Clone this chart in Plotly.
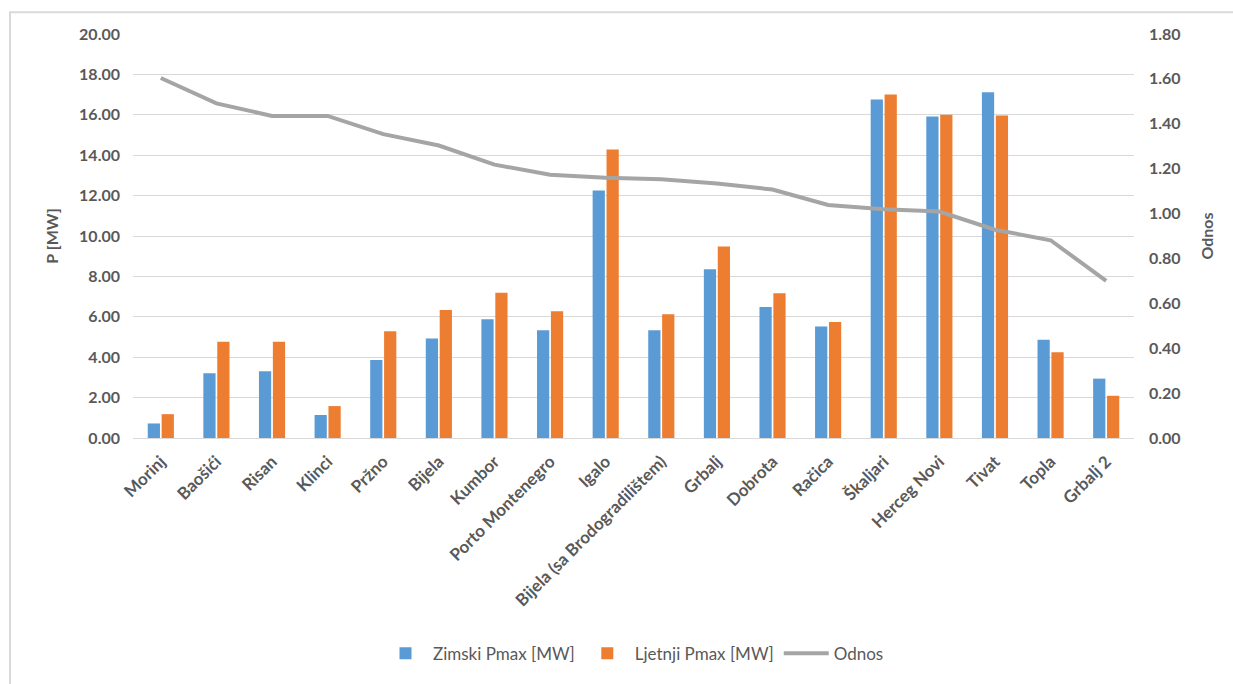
import plotly.graph_objects as go

categories = ["Morinj", "Baošići", "Risan", "Klinci", "Pržno", "Bijela", "Kumbor",
              "Porto Montenegro", "Igalo", "Bijela (sa Brodogradilištem)", "Grbalj",
              "Dobrota", "Račica", "Škaljari", "Herceg Novi", "Tivat", "Topla", "Grbalj 2"]
zimski = [0.72, 3.20, 3.30, 1.14, 3.86, 4.92, 5.88, 5.33, 12.25, 5.33, 8.35, 6.49,
          5.52, 16.76, 15.92, 17.12, 4.87, 2.94]
ljetnji = [1.18, 4.77, 4.77, 1.58, 5.28, 6.34, 7.19, 6.27, 14.28, 6.13, 9.48, 7.16,
           5.74, 17.01, 16.00, 15.96, 4.25, 2.09]
odnos = [1.604, 1.491, 1.435, 1.435, 1.354, 1.303, 1.218, 1.173, 1.160, 1.153, 1.134,
         1.107, 1.038, 1.019, 1.009, 0.928, 0.881, 0.700]
left_ticks = [0, 2, 4, 6, 8, 10, 12, 14, 16, 18, 20]
right_ticks = [0, 0.2, 0.4, 0.6, 0.8, 1.0, 1.2, 1.4, 1.6, 1.8]

FONT = "Lato"
GRAY = "#595959"

fig = go.Figure()
fig.add_trace(go.Bar(x=categories, y=zimski, name="Zimski Pmax [MW]",
                     marker=dict(color="#5B9BD5", line=dict(width=0))))
fig.add_trace(go.Bar(x=categories, y=ljetnji, name="Ljetnji Pmax [MW]",
                     marker=dict(color="#ED7D31", line=dict(width=0))))
fig.add_trace(go.Scatter(x=categories, y=odnos, name="Odnos", yaxis="y2",
                         mode="lines", line=dict(color="#A5A5A5", width=4)))

fig.update_layout(
    width=1233, height=684,
    paper_bgcolor="white", plot_bgcolor="white",
    margin=dict(l=133, r=99, t=34, b=242),
    barmode="group", bargap=0.5, bargroupgap=0.12,
    font=dict(family=FONT, color=GRAY),
    xaxis=dict(tickangle=-45, showgrid=False, showline=True, linecolor="#D9D9D9",
               linewidth=1, ticks="", ticklabelstandoff=6,
               tickfont=dict(family=FONT, size=17, color=GRAY, weight="bold")),
    yaxis=dict(range=[0, 20], tickvals=left_ticks,
               ticktext=[f"{v:.2f}" for v in left_ticks],
               showgrid=True, gridcolor="#D9D9D9", gridwidth=1, zeroline=False,
               ticks="", ticklabelstandoff=12,
               tickfont=dict(family=FONT, size=16, color=GRAY, weight="bold"),
               title=dict(text="P [MW]", font=dict(family=FONT, size=16, color=GRAY, weight="bold"),
                          standoff=16)),
    yaxis2=dict(range=[0, 1.8], tickvals=right_ticks,
                ticktext=[f"{v:.2f}" for v in right_ticks],
                overlaying="y", side="right", showgrid=False, zeroline=False,
                ticks="", ticklabelstandoff=14,
                tickfont=dict(family=FONT, size=16, color=GRAY, weight="bold"),
                title=dict(text="Odnos", font=dict(family=FONT, size=16, color=GRAY, weight="bold"),
                           standoff=22)),
    legend=dict(orientation="h", x=0.5, xanchor="center", y=-0.534, yanchor="middle",
                font=dict(family=FONT, size=17, color=GRAY), traceorder="normal",
                itemwidth=45),
    shapes=[dict(type="rect", xref="paper", yref="paper",
                 x0=-123 / 1001, x1=1.2, y0=-1.0, y1=1 + 22 / 408,
                 line=dict(color="#D9D9D9", width=2), fillcolor="rgba(0,0,0,0)", layer="below")],
)

fig.write_html("out.html", config={"displayModeBar": False},
               post_script="document.body.style.margin='0';")
